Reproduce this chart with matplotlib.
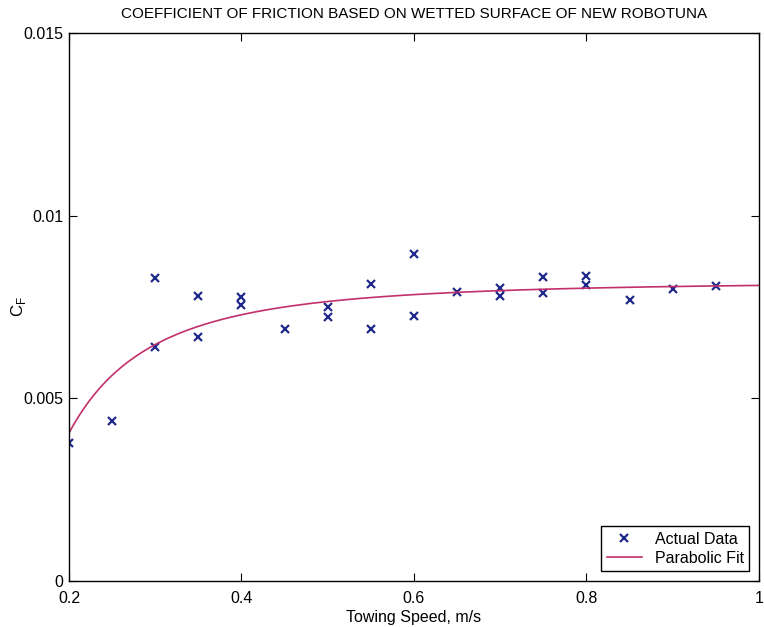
import numpy as np
import matplotlib
matplotlib.use("Agg")
import matplotlib.pyplot as plt

plt.rcParams['font.family'] = ['Liberation Sans', 'DejaVu Sans']

# towing speed (m/s) and measured friction coefficient
speed = [0.20, 0.25, 0.30, 0.30, 0.35, 0.35, 0.40, 0.40, 0.45,
         0.50, 0.50, 0.55, 0.55, 0.60, 0.60, 0.65, 0.70, 0.70,
         0.75, 0.75, 0.80, 0.80, 0.85, 0.90, 0.95]
cf = [0.00378, 0.00439, 0.00829, 0.00641, 0.00779, 0.00669, 0.00777, 0.00755, 0.00691,
      0.00749, 0.00722, 0.00812, 0.00689, 0.00894, 0.00724, 0.00792, 0.00801, 0.00779,
      0.00831, 0.00789, 0.00836, 0.00811, 0.00769, 0.00800, 0.00807]

# parabolic fit in 1/V : Cf = a + b/V + c/V^2
fit_coef = [0.00815, 0.00013, -0.00019]

xticks = [0.2, 0.4, 0.6, 0.8, 1.0]
xticklabels = ['0.2', '0.4', '0.6', '0.8', '1']
yticks = [0, 0.005, 0.01, 0.015]
yticklabels = ['0', '0.005', '0.01', '0.015']

fig = plt.figure(figsize=(7.64, 6.27), dpi=100)
ax = fig.add_axes([0.0903, 0.0734, 0.9031, 0.874])

v = np.linspace(0.2, 1.0, 200)
u = 1 / v
fit = fit_coef[0] + fit_coef[1] * u + fit_coef[2] * u**2

ax.plot(speed, cf, 'x', color='#1f2a8a', markersize=6, markeredgewidth=1.6,
        label='Actual Data')
ax.plot(v, fit, '-', color='#c2306b', linewidth=1.2, label='Parabolic Fit')

ax.set_xlim(0.2, 1.0)
ax.set_ylim(0, 0.015)
ax.set_xticks(xticks)
ax.set_xticklabels(xticklabels)
ax.set_yticks(yticks)
ax.set_yticklabels(yticklabels)
ax.tick_params(direction='in', top=True, right=True, labelsize=11.5, length=6)
ax.tick_params(axis='x', pad=7)
ax.tick_params(axis='y', pad=4)
for s in ax.spines.values():
    s.set_linewidth(1.0)

ax.set_xlabel('Towing Speed, m/s', fontsize=11.5, labelpad=3)
ax.set_ylabel('C$_\\mathregular{F}$', fontsize=12)
ax.yaxis.set_label_coords(-0.059, 0.5)
ax.set_title('COEFFICIENT OF FRICTION BASED ON WETTED SURFACE OF NEW ROBOTUNA',
             fontsize=11, pad=11)

leg = ax.legend(loc='lower right', fontsize=11.5, fancybox=False, framealpha=1,
                edgecolor='black', borderaxespad=0.6, handlelength=2.2,
                labelspacing=0.25, borderpad=0.35)
leg.get_frame().set_linewidth(1.0)

fig.savefig('out.png', dpi=100)
